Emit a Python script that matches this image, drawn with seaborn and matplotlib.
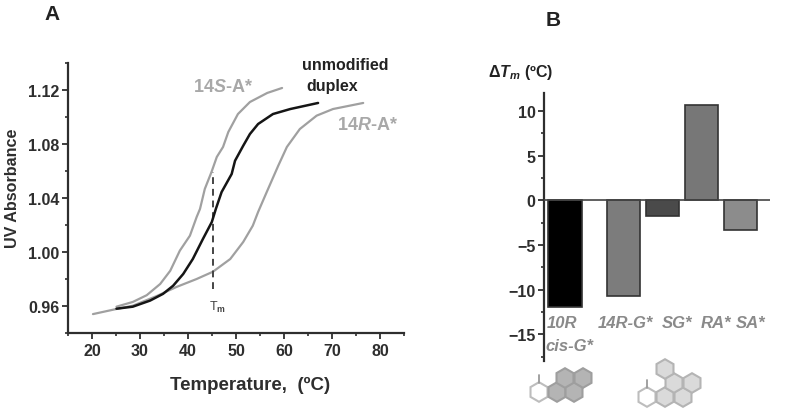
import matplotlib
matplotlib.use('Agg')
import matplotlib.pyplot as plt
from matplotlib.patches import RegularPolygon
from matplotlib.ticker import MultipleLocator
import pandas as pd
import seaborn as sns

# panel A melting curves
temp_s = [25.1, 28.5, 31.4, 34.2, 36.3, 38.3, 40.4, 41.8, 42.5, 43.5, 44.9, 46, 47.3, 48.4, 50.4, 52.9, 56.5, 59.6]
abs_s = [0.9595, 0.963, 0.968, 0.9763, 0.9861, 1.001, 1.0121, 1.0259, 1.0319, 1.0467, 1.0593, 1.0704, 1.0778,
         1.0889, 1.1022, 1.1111, 1.1178, 1.1215]
temp_u = [25.1, 28.5, 32.1, 34.8, 36.9, 39, 41, 43.1, 44.96, 45.8, 47, 49.1, 49.8, 51.5, 52.9, 54.6, 57.7, 61.3, 67.1]
abs_u = [0.958, 0.9595, 0.964, 0.969, 0.975, 0.9837, 0.9948, 1.0096, 1.0222, 1.0319, 1.0444, 1.0578, 1.0676,
         1.0787, 1.0874, 1.0948, 1.1022, 1.1059, 1.1104]
temp_r = [20.2, 25.1, 28.5, 33.5, 37.6, 41.8, 45.2, 48.8, 51.5, 53.5, 54.6, 56.4, 58.8, 60.6, 63.3, 66.8, 70.2, 76.5]
abs_r = [0.954, 0.9578, 0.9602, 0.9674, 0.9741, 0.98, 0.9854, 0.9948, 1.0074, 1.0195, 1.0296, 1.0444, 1.0639,
         1.0778, 1.0911, 1.101, 1.1059, 1.1104]
tm_x = [45.2, 45.2]
tm_y = [0.9726, 1.0593]

# panel B bars
bar_pos = [0, 1.5, 2.5, 3.5, 4.5]
bar_names = ['10R', '14R-G', 'SG', 'RA', 'SA']
delta_tm = [-11.9, -10.7, -1.8, 10.7, -3.3]
bar_colors = ['#000000', '#7c7c7c', '#4a4a4a', '#777777', '#8c8c8c']

sns.set_theme(style='white')
plt.rcParams['font.family'] = ['Liberation Sans', 'DejaVu Sans']
plt.rcParams['mathtext.fontset'] = 'custom'
plt.rcParams['mathtext.it'] = 'Liberation Sans:italic:bold'
plt.rcParams['mathtext.rm'] = 'Liberation Sans:bold'

W, H = 800, 414
fig = plt.figure(figsize=(8, 4.14), dpi=100)
ink = '#2e2e2e'


def px_axes(l, t, r, b):
    return fig.add_axes([l / W, 1 - b / H, (r - l) / W, (b - t) / H])


def label(x, y, s, **kw):
    fig.text(x / W, 1 - y / H, s, va='center', **kw)


# A
ax = px_axes(68, 64, 404, 334)
sns.lineplot(x=temp_s, y=abs_s, color='#a0a0a0', lw=1.6, sort=False, estimator=None, ax=ax)
sns.lineplot(x=temp_r, y=abs_r, color='#a0a0a0', lw=1.6, sort=False, estimator=None, ax=ax)
sns.lineplot(x=tm_x, y=tm_y, color='#444444', lw=1.4, ls=(0, (3.5, 2.5)), sort=False, estimator=None, ax=ax)
sns.lineplot(x=temp_u, y=abs_u, color='#151515', lw=1.8, sort=False, estimator=None, ax=ax)
ax.set_xlim(15, 85)
ax.set_ylim(0.94, 1.14)
ax.set_xticks(range(20, 81, 10))
ax.set_yticks([0.96, 1.00, 1.04, 1.08, 1.12])
ax.set_yticklabels(['0.96', '1.00', '1.04', '1.08', '1.12'])
ax.xaxis.set_minor_locator(MultipleLocator(5))
ax.yaxis.set_minor_locator(MultipleLocator(0.02))
sns.despine(ax=ax)

# B
bars = pd.DataFrame({'pos': bar_pos, 'name': bar_names, 'dtm': delta_tm})
bx = px_axes(544, 94, 770, 362)
sns.barplot(data=bars, x='pos', y='dtm', hue='name', palette=bar_colors, native_scale=True,
            width=0.85, dodge=False, legend=False, edgecolor='#333333', linewidth=1.2, ax=bx)
bx.axhline(0, color='#444444', lw=1.2, zorder=5)
bx.set_xlim(-0.54, 5.26)
bx.set_ylim(-18, 12)
bx.set_yticks([-15, -10, -5, 0, 5, 10])
bx.yaxis.set_minor_locator(MultipleLocator(2.5))
bx.set_xticks([])
bx.set_xlabel('')
bx.set_ylabel('')
sns.despine(ax=bx, bottom=True)

for a in (ax, bx):
    a.tick_params(which='major', direction='out', length=4, width=1.3, left=True,
                  colors=ink, labelsize=11.5, pad=2)
    a.tick_params(which='minor', direction='out', length=2.5, width=1.2, left=True, color=ink)
    for s in a.spines.values():
        s.set_linewidth(1.6)
        s.set_color(ink)
    for t in a.get_xticklabels() + a.get_yticklabels():
        t.set_fontweight('bold')
ax.tick_params(which='both', bottom=True)
ax.tick_params(axis='x', which='major', pad=3)
ax.set_xlabel('')
ax.set_ylabel('')

# text
label(52, 15, 'A', fontsize=15, fontweight='bold', color='#222222', ha='center')
label(553, 21, 'B', fontsize=15, fontweight='bold', color='#222222', ha='center')
label(13, 188, 'UV Absorbance', fontsize=11.6, fontweight='bold', color=ink, ha='center', rotation=90)
label(250, 385, 'Temperature,  (ºC)', fontsize=13.5, fontweight='bold', color=ink, ha='center')
label(218, 307, 'T$_{\\mathrm{m}}$', fontsize=9, color='#444444', ha='center')
label(345, 66, 'unmodified', fontsize=11.5, fontweight='bold', color='#222222', ha='center')
label(332, 87, 'duplex', fontsize=11.5, fontweight='bold', color='#222222', ha='center')
label(223, 87, '14$\\mathit{S}$-A*', fontsize=13, fontweight='bold', color='#a8a8a8', ha='center')
label(367, 125, '14$\\mathit{R}$-A*', fontsize=13, fontweight='bold', color='#a8a8a8', ha='center')
label(521, 72, '$\\Delta\\mathit{T}_{\\mathit{m}}$ (ºC)', fontsize=11.5, fontweight='bold', color='#222222', ha='center')

grey = '#8a8a8a'
for x, s in [(562, '10R'), (625, '14R-G*'), (677, 'SG*'), (716, 'RA*'), (751, 'SA*')]:
    label(x, 324, s, fontsize=12, fontweight='bold', style='italic', color=grey, ha='center')
label(569, 347, 'cis-G*', fontsize=12, fontweight='bold', style='italic', color=grey, ha='center')

# ring sketches under the bars
rings = [(539, 393, 'white', '#bdbdbd'), (557, 393, '#b4b4b4', '#9e9e9e'), (574, 393, '#b4b4b4', '#9e9e9e'),
         (565, 379, '#b4b4b4', '#9e9e9e'), (583, 379, '#b4b4b4', '#9e9e9e'),
         (647, 398, 'white', '#bdbdbd'), (665, 398, '#dadada', '#b4b4b4'), (683, 398, '#dadada', '#b4b4b4'),
         (674, 384, '#dadada', '#b4b4b4'), (692, 384, '#dadada', '#b4b4b4'), (665, 370, '#dadada', '#b4b4b4')]
for cx, cy, col, edge in rings:
    fig.add_artist(RegularPolygon((cx, H - cy), 6, radius=9.8, facecolor=col, edgecolor=edge, lw=1.5,
                                  transform=None))
for sx, y0, y1 in [(539, 376, 384), (647, 381, 389)]:
    fig.add_artist(plt.Line2D([sx, sx], [H - y0, H - y1], color='#9a9a9a', lw=1.3, transform=None))

fig.savefig('out.png', dpi=100)
